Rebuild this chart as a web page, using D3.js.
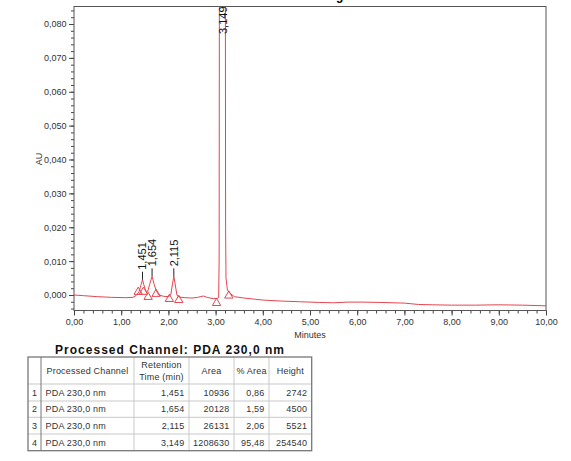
<!DOCTYPE html>
<html>
<head>
<meta charset="utf-8">
<script src="https://cdn.jsdelivr.net/npm/d3@7"></script>
<style>
  body { margin: 0; background: #fff; }
  text { font-family: "Liberation Sans", Arial, sans-serif; }
</style>
</head>
<body>
<div id="chart"></div>
<script>
// trace: minutes / AU
var traceTime = [0.00, 0.20, 0.50, 0.80, 1.10, 1.25, 1.32, 1.38, 1.42, 1.451, 1.48, 1.52, 1.56, 1.60, 1.654, 1.70, 1.75, 1.80, 1.90, 2.00,
                 2.05, 2.09, 2.115, 2.14, 2.18, 2.22, 2.35, 2.50, 2.62, 2.74, 2.82, 2.95, 3.03, 3.065, 3.075, 3.08, 3.10, 3.149, 3.19, 3.207,
                 3.212, 3.22, 3.25, 3.30, 3.40, 3.60, 3.80, 4.00, 4.40, 4.80, 5.20, 5.50, 5.80, 6.10, 6.50, 7.00, 7.30, 7.60, 8.00, 8.50,
                 9.00, 9.50, 10.00];
var traceAU = [0.0000, -0.0002, -0.0005, -0.0007, -0.0008, -0.0007, -0.0001, 0.0010, 0.0030, 0.0045, 0.0030, 0.0012, 0.0010, 0.0030, 0.0055, 0.0030, 0.0010, 0.0000, -0.0004, -0.0005,
               0.0000, 0.0035, 0.0055, 0.0035, 0.0000, -0.0006, -0.0008, -0.0009, -0.0007, -0.0003, -0.0007, -0.0011, -0.0010, -0.0008, 0.0100, 0.0900, 0.2000, 0.2545, 0.2000, 0.0900,
               0.0200, 0.0050, 0.0015, 0.0005, -0.0005, -0.0009, -0.0012, -0.0015, -0.0018, -0.0020, -0.0022, -0.0023, -0.0021, -0.0021, -0.0022, -0.0024, -0.0028, -0.0029, -0.0030, -0.0030,
               -0.0029, -0.0030, -0.0032];

var peakTime = [1.451, 1.654, 2.115, 3.149];
var peakLabel = ["1,451", "1,654", "2,115", "3,149"];
var peakApex = [0.0045, 0.0055, 0.0055, 0.2545];

// start / end markers (triangles)
var markTime = [1.36, 1.47, 1.57, 1.74, 2.02, 2.22, 3.02, 3.28];
var markAU = [0.0009, 0.0009, -0.0006, 0.0003, -0.0012, -0.0015, -0.0024, -0.0002];

var xTicks = [0, 1, 2, 3, 4, 5, 6, 7, 8, 9, 10];
var yTicks = [0, 0.01, 0.02, 0.03, 0.04, 0.05, 0.06, 0.07, 0.08];

// peak table
var tableHeader = ["", "Processed Channel", "Retention\nTime (min)", "Area", "% Area", "Height"];
var tableNum = ["1", "2", "3", "4"];
var tableChannel = ["PDA 230,0 nm", "PDA 230,0 nm", "PDA 230,0 nm", "PDA 230,0 nm"];
var tableRT = ["1,451", "1,654", "2,115", "3,149"];
var tableArea = ["10936", "20128", "26131", "1208630"];
var tablePct = ["0,86", "1,59", "2,06", "95,48"];
var tableHeight = ["2742", "4500", "5521", "254540"];

var red = "#e6454f";

var svg = d3.select("#chart")
  .append("svg")
    .attr("width", 571)
    .attr("height", 461);

var x = d3.scaleLinear().domain([0, 10]).range([74, 546]);
var y = d3.scaleLinear().domain([-0.00458, 0.08517]).range([310.5, 6.5]);

var comma = d3.formatLocale({decimal: ",", thousands: ".", grouping: [3], currency: ["", ""]});

// chart title, cut off by the top edge as in the source
svg.append("text")
  .attr("x", 206)
  .attr("y", -0.3)
  .style("font-size", "12px")
  .style("font-weight", "bold")
  .text("Auto-Scaled Chromatogram");

svg.append("clipPath")
  .attr("id", "plotclip")
  .append("rect")
    .attr("x", 74).attr("y", 6.5)
    .attr("width", 472).attr("height", 304);

// minor ticks
svg.append("g")
  .attr("transform", "translate(0,310.5)")
  .call(d3.axisBottom(x).tickValues(d3.range(0, 10.01, 0.2)).tickSize(3).tickSizeOuter(0).tickFormat(""))
  .call(g => g.select(".domain").remove())
  .selectAll("line").attr("stroke", "#444");
svg.append("g")
  .attr("transform", "translate(74,0)")
  .call(d3.axisLeft(y).tickValues(d3.range(-0.004, 0.0851, 0.002)).tickSize(3).tickSizeOuter(0).tickFormat(""))
  .call(g => g.select(".domain").remove())
  .selectAll("line").attr("stroke", "#444");

// major ticks + labels
var xAxis = svg.append("g")
  .attr("transform", "translate(0,310.5)")
  .call(d3.axisBottom(x).tickValues(xTicks).tickSize(5).tickSizeOuter(0).tickPadding(3).tickFormat(comma.format(".2f")));
var yAxis = svg.append("g")
  .attr("transform", "translate(74,0)")
  .call(d3.axisLeft(y).tickValues(yTicks).tickSize(5).tickSizeOuter(0).tickPadding(2.5).tickFormat(comma.format(".3f")));
[xAxis, yAxis].forEach(g => {
  g.selectAll("line").attr("stroke", "#444");
  g.select(".domain").remove();
  g.selectAll("text")
    .attr("fill", "#333")
    .style("font-size", "9px")
    .style("font-family", "'Liberation Sans', Arial, sans-serif");
});

// frame
svg.append("rect")
  .attr("x", 74).attr("y", 6.5)
  .attr("width", 472).attr("height", 304)
  .attr("fill", "none")
  .attr("stroke", "#555")
  .attr("stroke-width", 1);

svg.append("text")
  .attr("x", 310).attr("y", 337.5)
  .attr("text-anchor", "middle")
  .attr("fill", "#333")
  .style("font-size", "9px")
  .text("Minutes");

svg.append("text")
  .attr("transform", "translate(41.5,159)rotate(-90)")
  .attr("text-anchor", "middle")
  .attr("fill", "#333")
  .style("font-size", "9px")
  .text("AU");

// chromatogram
var idx = d3.range(traceTime.length);
var line = d3.line()
  .x(i => x(traceTime[i]))
  .y(i => y(traceAU[i]));

svg.append("path")
  .datum(idx)
  .attr("clip-path", "url(#plotclip)")
  .attr("d", line)
  .attr("fill", "none")
  .attr("stroke", red)
  .attr("stroke-width", 1);

// peak start/end markers
markTime.forEach((t, i) => {
  svg.append("path")
    .attr("d", d3.symbol(d3.symbolTriangle, 30)())
    .attr("transform", "translate(" + x(t) + "," + y(markAU[i]) + ")")
    .attr("fill", "none")
    .attr("stroke", red)
    .attr("stroke-width", 1);
});

// peak labels
peakTime.forEach((t, i) => {
  var px = x(t);
  var top = y(peakApex[i]);
  var start;
  if (top > 6.5) {
    svg.append("line")
      .attr("x1", px).attr("x2", px)
      .attr("y1", top).attr("y2", top - 8)
      .attr("stroke", "#222")
      .attr("stroke-width", 1);
    start = top - 10;
  } else {
    start = 34;
  }
  svg.append("text")
    .attr("transform", "translate(" + px + "," + start + ")rotate(-90)")
    .attr("dy", "0.36em")
    .attr("fill", "#111")
    .style("font-size", "11px")
    .text(peakLabel[i]);
});

// table
svg.append("text")
  .attr("x", 55).attr("y", 354)
  .attr("textLength", 229)
  .attr("lengthAdjust", "spacing")
  .style("font-size", "12px")
  .style("font-weight", "bold")
  .attr("fill", "#111")
  .text("Processed Channel: PDA 230,0 nm");

var colX = [28, 41, 134, 189, 234, 269, 311.7];
var rowY = [357, 384, 401, 417.3, 434, 450.7];
var tbl = svg.append("g");

// inner grid
colX.slice(2, -1).forEach(cx => {
  tbl.append("line").attr("x1", cx).attr("x2", cx).attr("y1", rowY[0]).attr("y2", rowY[5])
    .attr("stroke", "#c9c9c9");
});
rowY.slice(1, -1).forEach(ry => {
  tbl.append("line").attr("x1", colX[0]).attr("x2", colX[6]).attr("y1", ry).attr("y2", ry)
    .attr("stroke", "#c9c9c9");
});
tbl.append("line").attr("x1", colX[1]).attr("x2", colX[1]).attr("y1", rowY[0]).attr("y2", rowY[5])
  .attr("stroke", "#777");
tbl.append("rect")
  .attr("x", colX[0]).attr("y", rowY[0])
  .attr("width", colX[6] - colX[0]).attr("height", rowY[5] - rowY[0])
  .attr("fill", "none").attr("stroke", "#777").attr("stroke-width", 1.3);

function cell(txt, col, yy, align) {
  var tx = align == "start" ? colX[col] + 4.5 : align == "end" ? colX[col + 1] - 4.5 : (colX[col] + colX[col + 1]) / 2;
  tbl.append("text")
    .attr("x", tx).attr("y", yy)
    .attr("text-anchor", align)
    .attr("dy", "0.35em")
    .attr("fill", "#333")
    .style("font-size", "9px")
    .style("letter-spacing", "0.2px")
    .text(txt);
}

tableHeader.forEach((h, c) => {
  var parts = h.split("\n");
  if (parts.length == 2) {
    cell(parts[0], c, 365, "middle");
    cell(parts[1], c, 376.5, "middle");
  } else if (h) {
    cell(h, c, 370.5, "middle");
  }
});

tableNum.forEach((n, r) => {
  var ry = (rowY[r + 1] + rowY[r + 2]) / 2;
  cell(n, 0, ry, "middle");
  cell(tableChannel[r], 1, ry, "start");
  cell(tableRT[r], 2, ry, "end");
  cell(tableArea[r], 3, ry, "end");
  cell(tablePct[r], 4, ry, "end");
  cell(tableHeight[r], 5, ry, "end");
});
</script>
</body>
</html>
